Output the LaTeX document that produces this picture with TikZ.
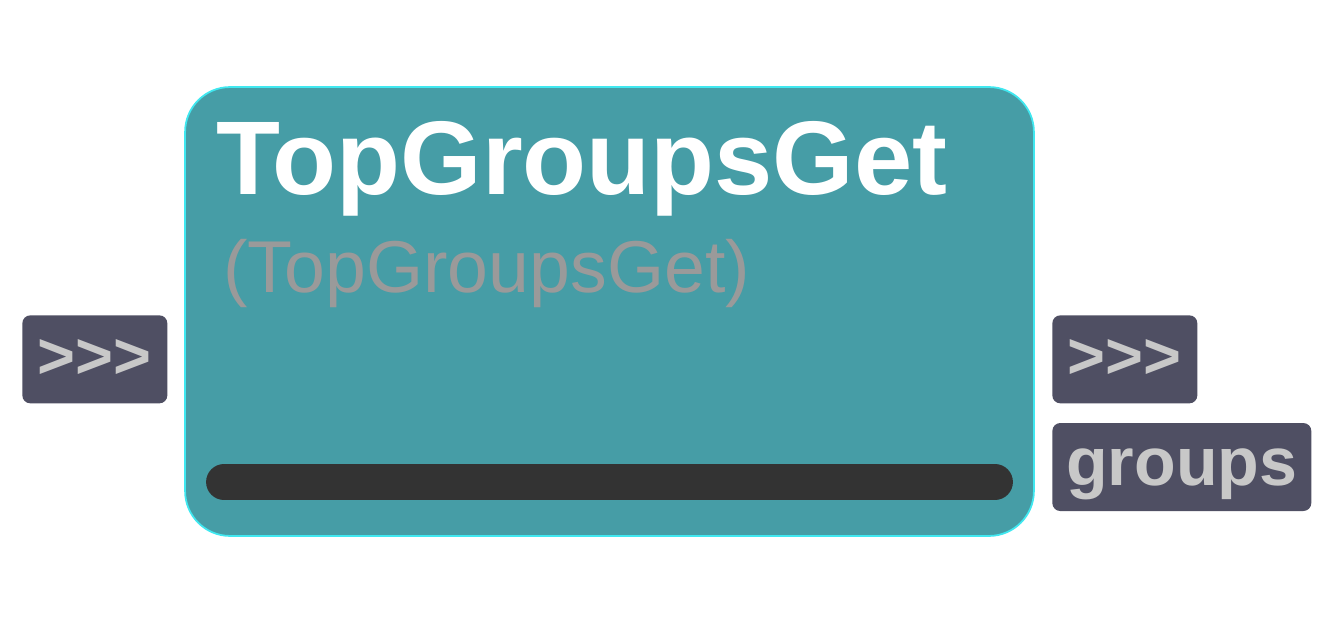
\documentclass[tikz,border=0pt]{standalone}
\usepackage{fontspec}
\setmainfont{Liberation Sans}
\usetikzlibrary{positioning}
\definecolor{NodeTeal}{HTML}{469DA6}
\definecolor{NodeEdge}{HTML}{40E8F0}
\definecolor{PortSlate}{HTML}{4F4F63}
\definecolor{PortText}{HTML}{C8C8C8}
\definecolor{SubGrey}{HTML}{9A9A9A}
\definecolor{BarDark}{HTML}{333333}

\begin{document}
\begin{tikzpicture}[x=0.02cm,y=-0.02cm,
    port/.style={rounded corners=4.5pt,fill=PortSlate,text=PortText,inner sep=0pt,
      font=\fontsize{37}{37}\selectfont\bfseries,minimum width=2.9cm,minimum height=1.76cm}]
    \useasboundingbox (0,0) rectangle (1339,628);
    \node[rounded corners=0.9cm,fill=NodeTeal,draw=NodeEdge,line width=1pt,
      minimum width=16.98cm,minimum height=8.98cm,inner sep=0pt] (main) at (609.5,311.5) {};
    \node[anchor=base west,inner sep=0pt,text=white,font=\fontsize{59.6}{61}\selectfont\bfseries] (title)
      at (216,195) {TopGroupsGet};
    \node[anchor=base west,inner sep=0pt,text=SubGrey,font=\fontsize{41.8}{43}\selectfont] (subtitle)
      at (223,293) {(TopGroupsGet)};
    \node[rounded corners=0.36cm,fill=BarDark,minimum width=16.14cm,minimum height=0.72cm,inner sep=0pt] (bar)
      at (609.5,482) {};
    \node[port,anchor=north west] (innext) at (22,315) {>{}>{}>};
    \node[port,anchor=north west] (outnext) at (1052,315) {>{}>{}>};
    \node[port,minimum width=5.18cm,text depth=0pt,font=\fontsize{38.8}{39}\selectfont\bfseries,
      below=0.38cm of outnext.south west,anchor=north west] (outgroups) {groups};
\end{tikzpicture}
\end{document}
